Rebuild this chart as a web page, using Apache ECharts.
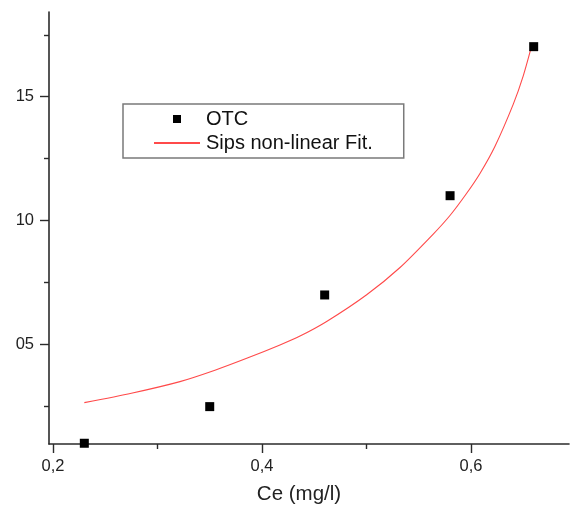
<!DOCTYPE html>
<html>
<head>
<meta charset="utf-8">
<script src="https://cdn.jsdelivr.net/npm/echarts@6/dist/echarts.min.js"></script>
<style>
html,body{margin:0;padding:0;background:#fff;}
#chart{width:572px;height:519px;}
</style>
</head>
<body>
<div id="chart"></div>
<script>
// Measured data (OTC, Ce vs qe)
var otcX = [0.23, 0.35, 0.46, 0.58, 0.66];
var otcY = [1.0, 2.48, 6.99, 11.0, 17.02];
// Sips non-linear fit curve
var fitX = [0.230, 0.275, 0.3215, 0.355, 0.3854, 0.4172, 0.4364, 0.4619, 0.5002, 0.5321, 0.5639, 0.5799, 0.5959, 0.6086, 0.6230, 0.6405, 0.6501, 0.6587];
var fitY = [2.64, 3.02, 3.49, 3.95, 4.43, 4.97, 5.33, 5.92, 7.0, 8.1, 9.45, 10.2, 11.1, 11.9, 13.0, 14.7, 15.85, 17.15];
// Tick labels
var xMajorTicks = [0.2, 0.4, 0.6];
var xMinorTicks = [0.3, 0.5];
var yMajorTicks = [5, 10, 15];
var yMinorTicks = [2.5, 7.5, 12.5, 17.5];
var yTickLabels = {5: '05', 10: '10', 15: '15'};

function zip(a, b) { return a.map(function (v, i) { return [v, b[i]]; }); }

var axisColor = '#2b2b2b';
var font = 'Liberation Sans, Arial, sans-serif';
var chart = echarts.init(document.getElementById('chart'), null, {renderer: 'canvas'});
var xMin = 0.1962, xMax = 0.6938, yMin = 0.97, yMax = 18.42;

chart.setOption({
  animation: false,
  backgroundColor: '#ffffff',
  grid: {left: 49, right: 3, top: 12, bottom: 75, containLabel: false},
  xAxis: [{
    type: 'value', min: xMin, max: xMax, position: 'bottom',
    axisLine: {show: true, lineStyle: {color: axisColor, width: 1.6}},
    axisTick: {show: true, customValues: xMajorTicks, length: 9, inside: false, lineStyle: {color: axisColor, width: 1.4}},
    axisLabel: {show: true, customValues: xMajorTicks, margin: 14, fontFamily: font, fontSize: 16.5, color: '#222',
      formatter: function (v) { return v.toFixed(1).replace('.', ','); }},
    splitLine: {show: false},
    name: 'Ce (mg/l)', nameLocation: 'middle', nameGap: 40,
    nameTextStyle: {fontFamily: font, fontSize: 20.5, color: '#222', padding: [0, 20, 0, 0]}
  }, {
    type: 'value', min: xMin, max: xMax, position: 'bottom',
    axisLine: {show: false},
    axisTick: {show: true, customValues: xMinorTicks, length: 5, inside: false, lineStyle: {color: axisColor, width: 1.4}},
    axisLabel: {show: false},
    splitLine: {show: false}
  }],
  yAxis: [{
    type: 'value', min: yMin, max: yMax, position: 'left',
    axisLine: {show: true, lineStyle: {color: axisColor, width: 1.6}},
    axisTick: {show: true, customValues: yMajorTicks, length: 9, inside: false, lineStyle: {color: axisColor, width: 1.4}},
    axisLabel: {show: true, customValues: yMajorTicks, margin: 15, fontFamily: font, fontSize: 16.5, color: '#222',
      formatter: function (v) { return yTickLabels[v] || ''; }},
    splitLine: {show: false}
  }, {
    type: 'value', min: yMin, max: yMax, position: 'left',
    axisLine: {show: false},
    axisTick: {show: true, customValues: yMinorTicks, length: 5, inside: false, lineStyle: {color: axisColor, width: 1.4}},
    axisLabel: {show: false},
    splitLine: {show: false}
  }],
  legend: {
    orient: 'vertical', left: 123, top: 104,
    padding: [5, 31, 5, 30], itemGap: 4,
    itemWidth: 46, itemHeight: 8, itemStyle: {borderWidth: 0},
    borderColor: '#7a7a7a', borderWidth: 1.5, backgroundColor: '#fff',
    textStyle: {fontFamily: font, fontSize: 20, color: '#111', padding: [0, 0, 0, 1]},
    data: [
      {name: 'OTC', icon: 'path://M0,0H10V10H0Z'},
      {name: 'Sips non-linear Fit.', itemStyle: {opacity: 0, color: 'rgba(0,0,0,0)'}}
    ]
  },
  series: [{
    name: 'Sips non-linear Fit.', type: 'line', xAxisIndex: 0, yAxisIndex: 0,
    data: zip(fitX, fitY), smooth: 0.25, symbol: 'none', showSymbol: false,
    lineStyle: {color: '#ff4a4a', width: 1.1}, itemStyle: {color: '#ff4a4a'}, z: 2
  }, {
    name: 'OTC', type: 'scatter', xAxisIndex: 0, yAxisIndex: 0,
    data: zip(otcX, otcY), symbol: 'rect', symbolSize: 9,
    itemStyle: {color: '#000', opacity: 1}, z: 3
  }]
});
</script>
</body>
</html>
